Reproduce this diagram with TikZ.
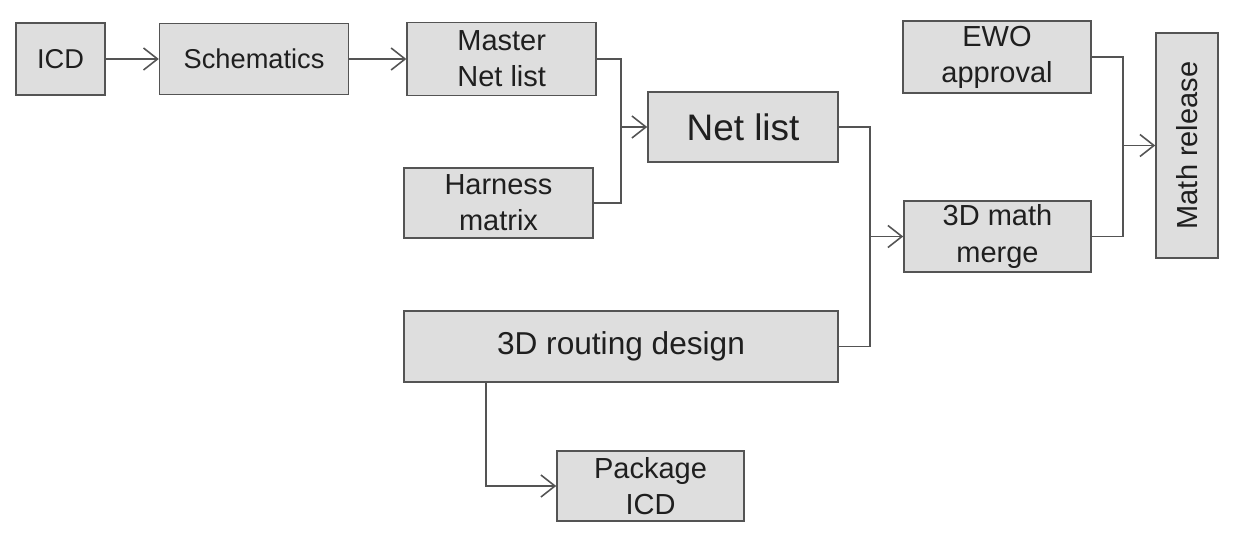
\documentclass[tikz,border=0pt]{standalone}
\usepackage{fontspec}
\setmainfont{Liberation Sans}
\usepackage{tikz}
\usetikzlibrary{positioning, arrows.meta, calc}
\definecolor{boxfill}{gray}{0.87}
\definecolor{edge}{gray}{0.33}
\definecolor{ink}{gray}{0.12}

\begin{document}
\begin{tikzpicture}[
  box/.style={draw=edge, line width=0.9pt, fill=boxfill, minimum width=3.78cm,
              minimum height=1.42cm, align=center, text=ink,
              font=\fontsize{16.5}{20.5}\selectfont, inner sep=2pt},
  arr/.style={-{Straight Barb[length=2.8mm, width=4.4mm]}, draw=edge, line width=0.9pt},
  wire/.style={draw=edge, line width=0.9pt},
  node distance=1.1cm]
  \useasboundingbox (0,0) rectangle (24.72,-10.92);
  % design chain
  \node[box, minimum width=1.78cm, minimum height=1.44cm,
        font=\fontsize{15.5}{19}\selectfont] (icd) at (1.21,-1.18) {ICD};
  \node[box, right=1.06cm of icd, font=\fontsize{15.5}{19}\selectfont] (sch) {Schematics};
  \node[box, right=1.14cm of sch, minimum height=1.46cm] (ms) {Master\\Net list};
  \node[box, minimum height=1.40cm] (hm) at (9.97,-4.06) {Harness\\matrix};
  \node[box, minimum width=3.80cm, minimum height=1.40cm,
        font=\fontsize{21}{25}\selectfont] (nl) at (14.86,-2.54) {Net list};
  \node[box, minimum width=8.68cm, font=\fontsize{18}{22}\selectfont] (rd) at (12.42,-6.93) {3D routing design};
  \node[box, minimum width=3.74cm, minimum height=1.40cm] (pk) at (13.01,-9.72) {Package\\ICD};
  % release
  \node[box, minimum width=3.76cm, minimum height=1.44cm] (ewo) at (19.94,-1.14) {EWO\\approval};
  \node[box, minimum width=3.74cm] (mm) at (19.95,-4.73) {3D math\\merge};
  \node[box, rotate=90, minimum width=4.50cm, minimum height=1.24cm] (mr) at (23.74,-2.91) {Math release};
  \coordinate (j1) at (12.42,-2.54);
  \coordinate (j2) at (17.40,-4.73);
  \coordinate (j3) at (22.46,-2.91);
  \draw[arr] (icd) -- (sch);
  \draw[arr] (sch) -- (ms);
  \draw[wire] (ms.east) -| (j1); \draw[wire] (hm.east) -| (j1);
  \draw[arr] (j1) -- (nl.west);
  \draw[wire] (nl.east) -| (j2); \draw[wire] (rd.east) -| (j2);
  \draw[arr] (j2) -- (mm.west);
  \draw[wire] (ewo.east) -| (j3); \draw[wire] (mm.east) -| (j3);
  \draw[arr] (j3) -- (mr.north);
  \draw[arr] ([xshift=-2.7cm]rd.south) |- (pk.west);
\end{tikzpicture}
\end{document}
